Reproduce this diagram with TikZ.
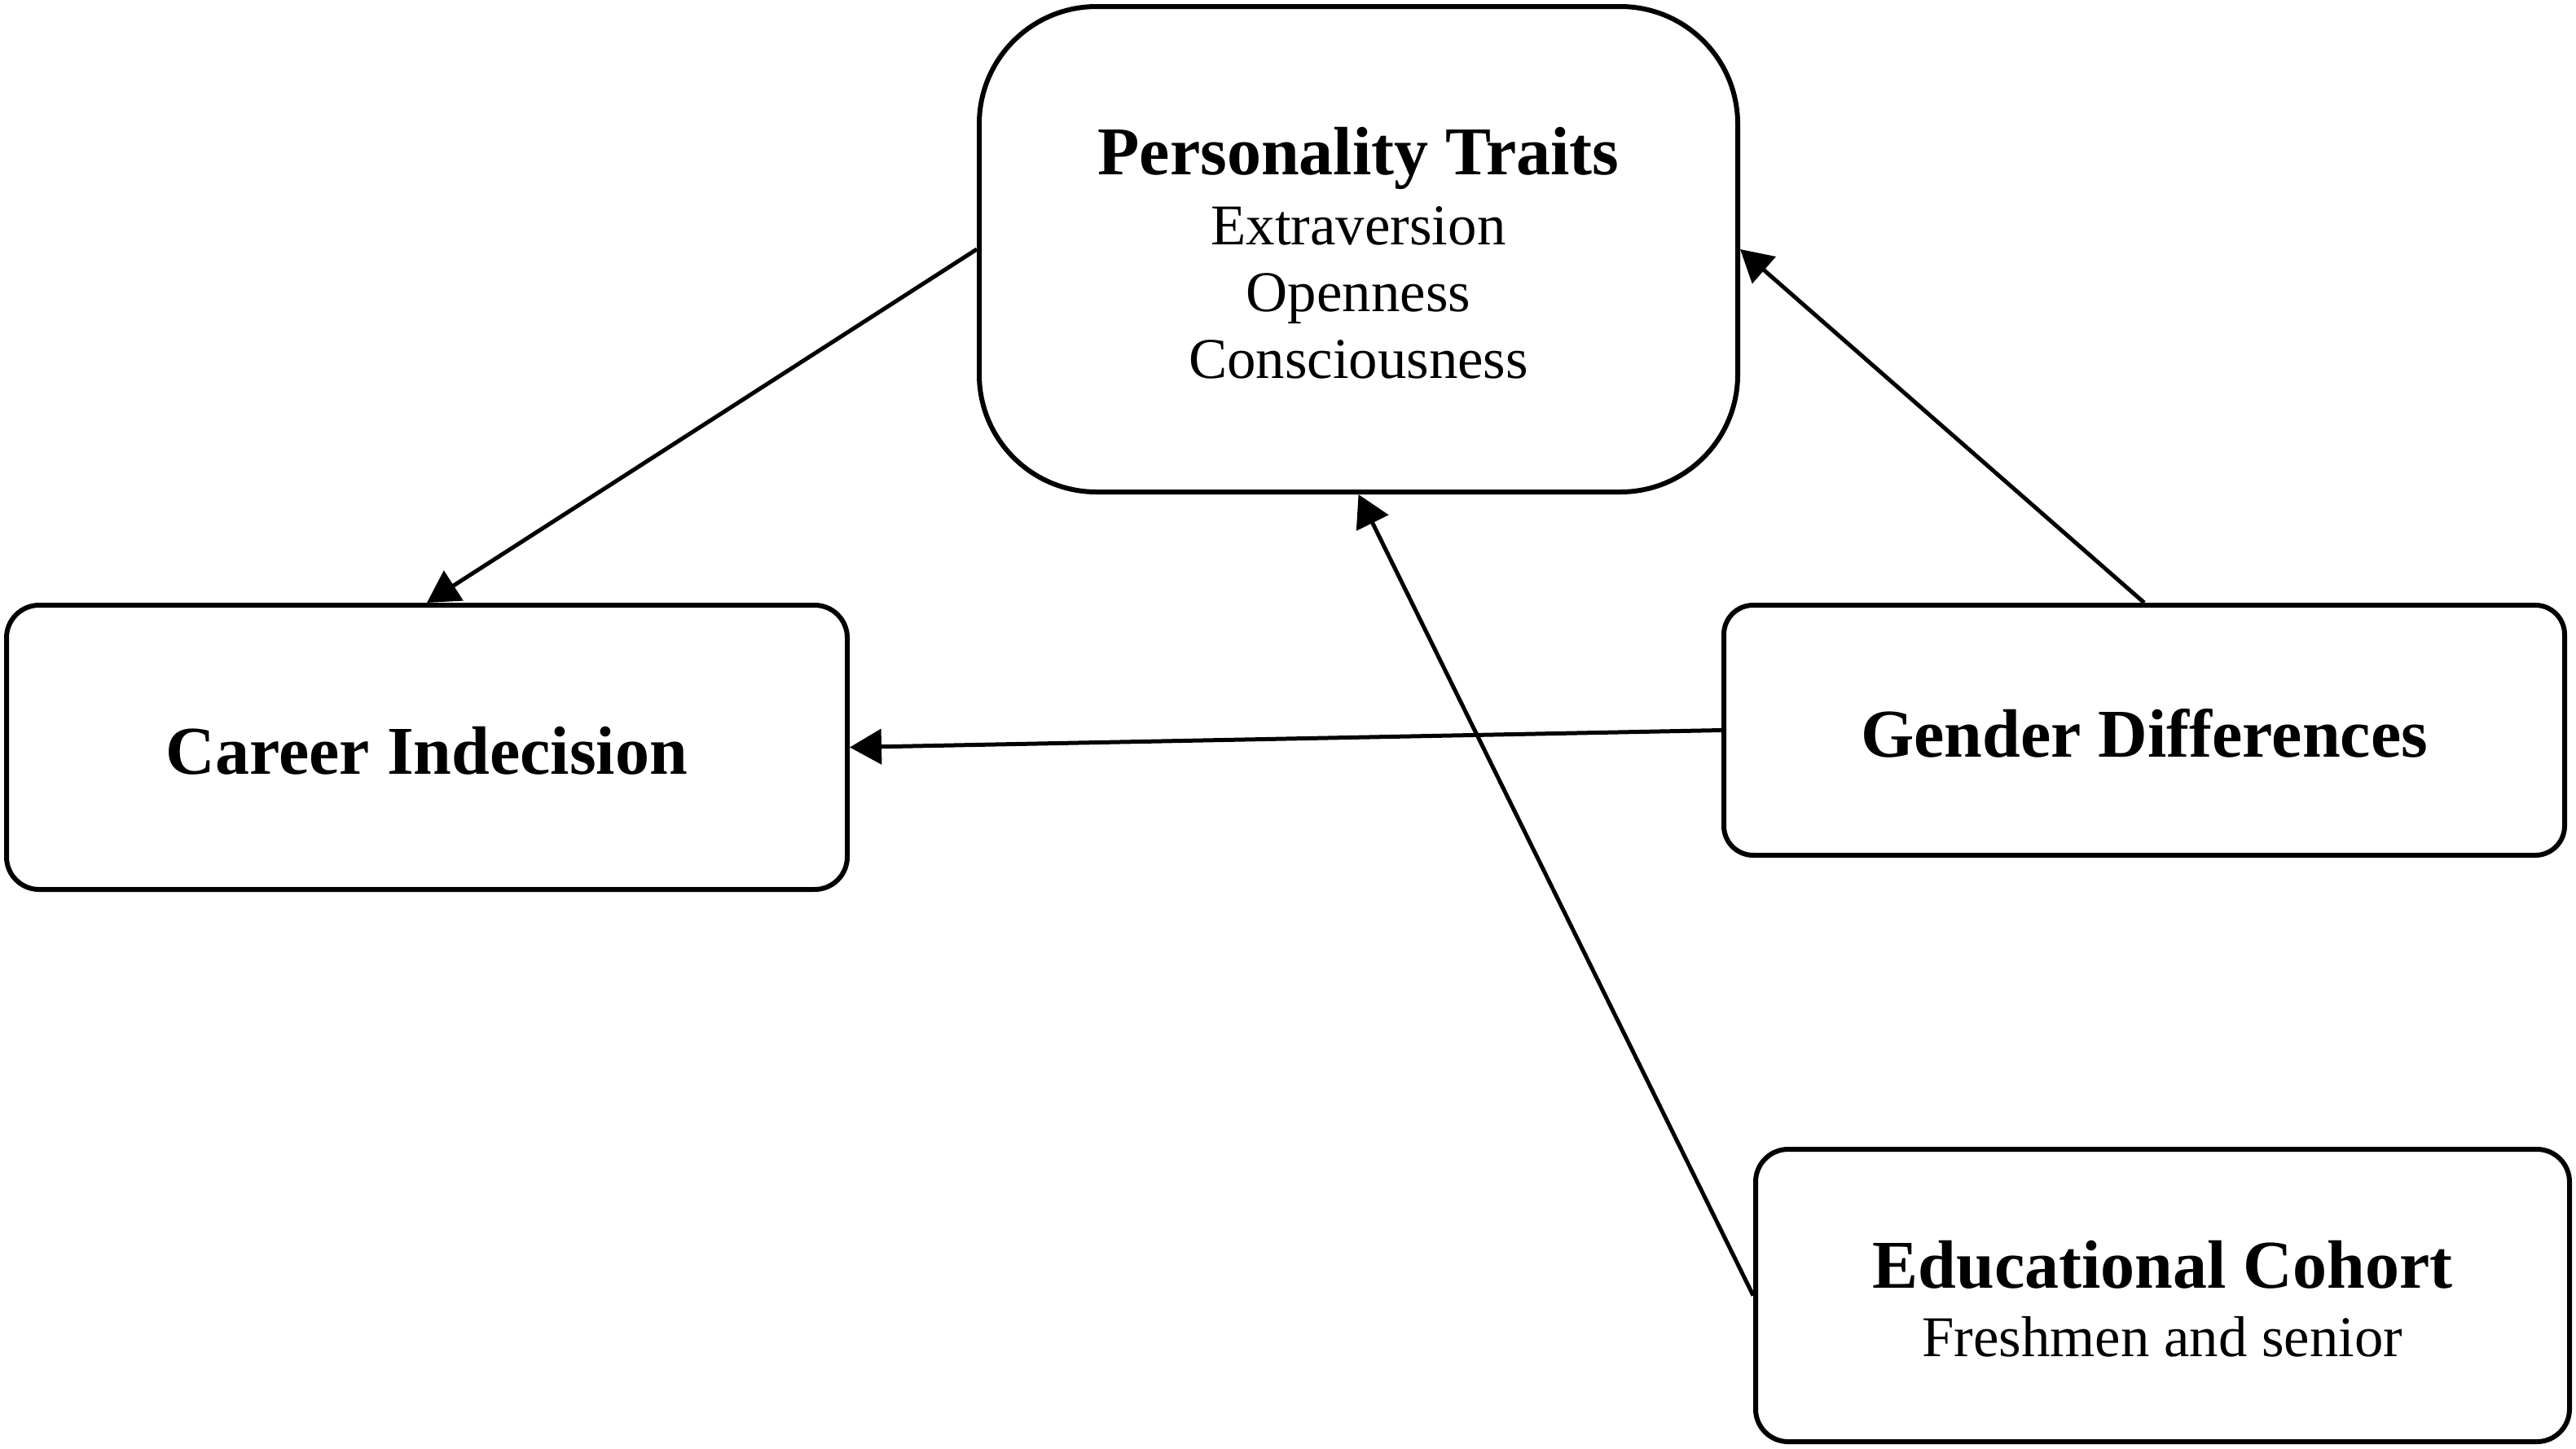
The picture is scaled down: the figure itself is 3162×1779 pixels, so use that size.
\documentclass[tikz,border=0pt]{standalone}
\usepackage{fontspec}
\setmainfont{Liberation Serif}
\usetikzlibrary{arrows.meta}
\newcommand{\tstrut}{\rule{0pt}{16.9pt}}
\tikzset{
  box/.style={draw=black, line width=1.5pt, fill=white, align=center, inner sep=0pt,
    font=\fontsize{17.7pt}{21pt}\selectfont},
  conn/.style={draw=black, line width=1.25pt, -{Triangle[length=9.75pt,width=10.75pt]}}
}
\begin{document}
\begin{tikzpicture}[x=0.25pt,y=-0.25pt]
\fill[white] (0,0) rectangle (3162,1779);
\useasboundingbox (0,0) rectangle (3162,1779);

\node[box, rounded corners=36pt, minimum width=232.75pt, minimum height=149pt,
      font=\fontsize{17.7pt}{20.5pt}\selectfont] (pers) at (1667.5,306)
  {{\bfseries\fontsize{21pt}{20.5pt}\selectfont\tstrut Personality Traits}\\[1pt]
   Extraversion\\ Openness\\ Consciousness};

\node[box, rounded corners=10pt, minimum width=258pt, minimum height=87.25pt] (career) at (524,917.5)
  {\bfseries\fontsize{21pt}{21pt}\selectfont\tstrut Career Indecision};

\node[box, rounded corners=9pt, minimum width=258pt, minimum height=76.75pt] (gender) at (2632,896.5)
  {\bfseries\fontsize{21pt}{21pt}\selectfont\tstrut Gender Differences};

\node[box, rounded corners=10pt, minimum width=249.75pt, minimum height=89.75pt] (educ) at (2654.5,1590.5)
  {{\bfseries\fontsize{21pt}{21pt}\selectfont\tstrut Educational Cohort}\\
   Freshmen and senior};

\draw[conn] (pers.west) -- (career.north);
\draw[conn] (gender.north) -- (pers.east);
\draw[conn] (gender.west) -- (career.east);
\draw[conn] (educ.west) -- (pers.south);
\end{tikzpicture}
\end{document}
